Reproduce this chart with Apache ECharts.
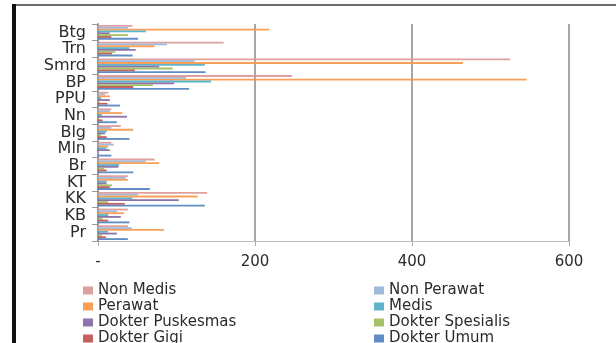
<!DOCTYPE html>
<html>
<head>
<meta charset="utf-8">
<script src="https://cdn.jsdelivr.net/npm/echarts@6/dist/echarts.min.js"></script>
<style>
  html, body { margin: 0; padding: 0; background: #fff; }
  #chart { width: 616px; height: 343px; }
</style>
</head>
<body>
<div id="chart"></div>
<script>
// Regions, listed bottom to top on the category axis
const categories = ['Pr', 'KB', 'KK', 'KT', 'Br', 'Mln', 'Blg', 'Nn', 'PPU', 'BP', 'Smrd', 'Trn', 'Btg'];

// Staff counts per region
const nonMedis        = [38, 38, 139, 38, 72, 17, 29, 17, 13, 247, 525, 160, 44];
const nonPerawat      = [43, 24, 51, 35, 61, 20, 17, 15, 9, 112, 123, 88, 38];
const perawat         = [84, 33, 127, 38, 78, 13, 45, 31, 15, 546, 465, 72, 218];
const medis           = [13, 13, 44, 11, 27, 11, 11, 5, 4, 144, 136, 40, 61];
const dokterPuskesmas = [24, 29, 103, 11, 26, 15, 9, 37, 15, 97, 78, 48, 15];
const dokterSpesialis = [5, 6, 13, 18, 8, 0, 4, 2, 2, 70, 95, 22, 38];
const dokterGigi      = [10, 13, 34, 15, 11, 0, 11, 6, 12, 45, 47, 18, 17];
const dokterUmum      = [38, 40, 136, 66, 45, 17, 40, 24, 28, 116, 137, 44, 51];

const seriesNames = ['Non Medis', 'Non Perawat', 'Perawat', 'Medis',
                     'Dokter Puskesmas', 'Dokter Spesialis', 'Dokter Gigi', 'Dokter Umum'];
const seriesData = [nonMedis, nonPerawat, perawat, medis,
                    dokterPuskesmas, dokterSpesialis, dokterGigi, dokterUmum];
const colors = ['#D99694', '#95B3D7', '#F79646', '#4BACC6',
                '#8064A2', '#9BBB59', '#C0504D', '#4F81BD'];

// x-axis ticks
const xTicks = [0, 200, 400, 600];

const font = 'DejaVu Sans';
const chart = echarts.init(document.getElementById('chart'));

const legendText = { fontFamily: font, fontSize: 15, color: '#2b2b2b', lineHeight: 15 };
const legendBase = {
  orient: 'vertical', top: 283, height: 80, padding: 0,
  itemWidth: 10, itemHeight: 8, itemGap: 1, icon: 'rect', textStyle: legendText
};

chart.setOption({
  animation: false,
  color: colors,
  grid: { left: 98, right: 47, top: 24, bottom: 102, containLabel: false },
  legend: [
    Object.assign({}, legendBase, {
      left: 83,
      data: [seriesNames[0], seriesNames[2], seriesNames[4], seriesNames[6]]
    }),
    Object.assign({}, legendBase, {
      left: 374,
      data: [seriesNames[1], seriesNames[3], seriesNames[5], seriesNames[7]]
    })
  ],
  xAxis: {
    type: 'value',
    min: xTicks[0],
    max: xTicks[xTicks.length - 1],
    interval: xTicks[1] - xTicks[0],
    axisLine: { show: true, lineStyle: { color: '#bbb', width: 1 } },
    axisTick: { show: true, length: 5, lineStyle: { color: '#aaa' } },
    axisLabel: {
      margin: 14, fontFamily: font, fontSize: 15, color: '#2b2b2b',
      formatter: v => (v === 0 ? '-' : String(v))
    },
    splitLine: { show: true, lineStyle: { color: '#a6a6a6', width: 2 } }
  },
  yAxis: {
    type: 'category',
    data: categories,
    axisLine: { show: true, lineStyle: { color: '#999', width: 2 } },
    axisTick: { show: true, length: 6, interval: 0, lineStyle: { color: '#999' } },
    axisLabel: { interval: 0, margin: 12, fontFamily: font, fontSize: 16, color: '#2b2b2b' },
    splitLine: { show: false }
  },
  series: seriesNames.map((name, i) => ({
    name,
    type: 'bar',
    data: seriesData[i],
    barGap: '0%',
    barCategoryGap: '12%',
    itemStyle: { color: colors[i], opacity: 0.9 }
  })),
  graphic: [
    { type: 'rect', shape: { x: 12, y: 4, width: 604, height: 2 }, style: { fill: '#6b6b6b' }, silent: true },
    { type: 'rect', shape: { x: 12, y: 4, width: 4, height: 339 }, style: { fill: '#111' }, silent: true }
  ]
});
</script>
</body>
</html>
